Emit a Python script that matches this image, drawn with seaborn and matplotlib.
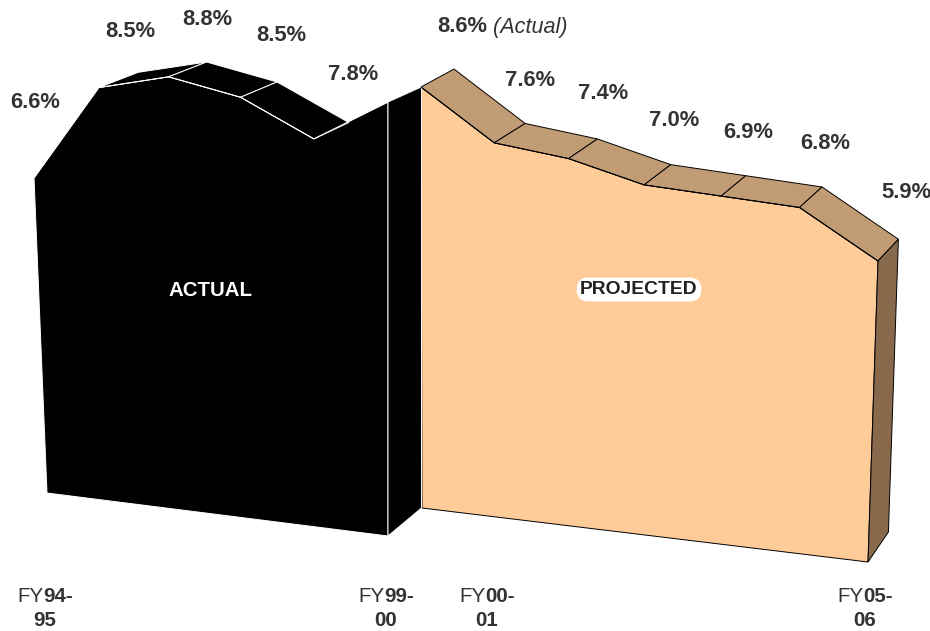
import numpy as np
import pandas as pd
import matplotlib
matplotlib.use("Agg")
import matplotlib.pyplot as plt
import seaborn as sns

# ---- data ----
actual_years = ["FY94-95", "FY95-96", "FY96-97", "FY97-98", "FY98-99", "FY99-00"]
actual_values = [6.6, 8.5, 8.8, 8.5, 7.8, 8.6]
projected_years = ["FY99-00", "FY00-01", "FY01-02", "FY02-03", "FY03-04", "FY04-05", "FY05-06"]
projected_values = [8.6, 7.6, 7.4, 7.0, 6.9, 6.8, 5.9]

# ---- styling / layout ----
TEXT = "#333333"
PEACH, TAN, BROWN = "#FFCC99", "#C09B73", "#88694C"
# perspective anchors of each panel: (position, value) -> canvas
ANCHOR_ACTUAL = [((0, 0), (47, 493)), ((5, 0), (388, 536)), ((0, 6.6), (34, 178)), ((5, 8.6), (388, 102))]
ANCHOR_PROJ = [((0, 0), (422, 508)), ((6, 0), (868, 562)), ((0, 8.6), (421, 87)), ((6, 5.9), (878, 261))]
OFFS_ACTUAL = [(1.5, -75), (31, -56), (39, -57), (41, -62), (39, -64)]
OFFS_PROJ = [None, (36, -62), (35, -65), (30, -64), (27, -64), (26, -64), (28, -68)]

sns.set_theme(style="white")
plt.rcParams["font.family"] = ["Liberation Sans", "DejaVu Sans"]


def homography(pairs):
    A, b = [], []
    for (s, v), (x, y) in pairs:
        A.append([s, v, 1, 0, 0, 0, -s * x, -v * x]); b.append(x)
        A.append([0, 0, 0, s, v, 1, -s * y, -v * y]); b.append(y)
    return np.append(np.linalg.solve(np.array(A, float), np.array(b, float)), 1).reshape(3, 3)


def project(H, s, v, depth=None):
    p = H @ np.array([s, v, 1.0])
    x, y = p[0] / p[2], p[1] / p[2]
    if depth is not None:
        x += depth[0](s)
        y -= depth[1](v)
    return x, y


def faces_viewer(a, b, c):
    # canvas y points down; the top strip shows only when it winds this way
    return (b[0] - a[0]) * (c[1] - a[1]) - (b[1] - a[1]) * (c[0] - a[0]) < 0


fig = plt.figure(figsize=(9.30, 6.31), dpi=100)
ax = fig.add_axes([0, 0, 1, 1])
ax.set_xlim(0, 930)
ax.set_ylim(631, 0)
ax.axis("off")

H_a = homography(ANCHOR_ACTUAL)
H_p = homography(ANCHOR_PROJ)
depth_a = (lambda s: 41 - 1.5 * s, lambda v: 28 - 1.5 * v)
depth_p = (lambda s: 33 - 2.1 * s, lambda v: 30 - 1.4 * v)


def panel(H, depth, values, face, top, side, edge, lw):
    n = len(values)
    front = [project(H, i, v) for i, v in enumerate(values)]
    back = [project(H, i, v, depth) for i, v in enumerate(values)]
    base0, base1 = project(H, 0, 0), project(H, n - 1, 0)
    base_back = project(H, n - 1, 0, depth)
    ax.fill(*zip(*(front + [base1, base0])), facecolor=face, edgecolor=edge, lw=lw, zorder=2, joinstyle="miter")
    for i in range(n - 1):
        shown = faces_viewer(front[i], front[i + 1], back[i + 1])
        ax.fill(*zip(front[i], front[i + 1], back[i + 1], back[i]), facecolor=top, edgecolor=edge, lw=lw,
                zorder=3 + i if shown else 1, joinstyle="miter")
    ax.fill(*zip(front[-1], back[-1], base_back, base1), facecolor=side, edgecolor=edge, lw=lw, zorder=3 + n, joinstyle="miter")
    df = pd.DataFrame(front, columns=["x", "y"])
    sns.lineplot(data=df, x="x", y="y", sort=False, estimator=None, color=edge, lw=lw, ax=ax, zorder=3 + n, legend=False)
    return front, base0, base1


front_a, b0a, b1a = panel(H_a, depth_a, actual_values, "black", "black", "black", "white", 0.7)
front_p, b0p, b1p = panel(H_p, depth_p, projected_values, PEACH, TAN, BROWN, "black", 0.7)
ax.set_xlim(0, 930)
ax.set_ylim(631, 0)
ax.set_xlabel("")
ax.set_ylabel("")

VAL = dict(fontsize=15.8, fontweight="bold", color=TEXT, ha="center", va="center")
for (x, y), v, o in zip(front_a, actual_values, OFFS_ACTUAL):
    ax.text(x + o[0], y + o[1], f"{v:.1f}%", **VAL)
for (x, y), v, o in zip(front_p, projected_values, OFFS_PROJ):
    if o is None:
        t = ax.text(x + 16, y - 60, f"{v:.1f}%", fontsize=15.8, fontweight="bold", color=TEXT, ha="left", va="center")
        ax.annotate(" (Actual)", xy=(1, 0.5), xycoords=t, va="center", ha="left", fontsize=15.6, fontstyle="italic", color=TEXT)
    else:
        ax.text(x + o[0], y + o[1], f"{v:.1f}%", **VAL)

ax.text(210, 290, "ACTUAL", fontsize=14.7, fontweight="bold", color="white", ha="center", va="center", zorder=20)
ax.text(639, 289.5, "PROJECTED", fontsize=13.9, fontweight="bold", color="#222222", ha="center", va="center", zorder=20,
        bbox=dict(boxstyle="round,pad=0.18,rounding_size=0.6", facecolor="white", edgecolor="none"))


def year_label(center, name):
    head, tail = name[:2], name[2:].split("-")
    split = center - 2
    for txt, x, ha, w, y in [(head, split, "right", "normal", 596),
                             (tail[0] + "-", split, "left", "bold", 596),
                             (tail[1], center, "center", "bold", 621)]:
        ax.text(x, y, txt, fontsize=14.8, fontweight=w, color=TEXT, ha=ha, va="center")


year_label(45, actual_years[0])
year_label(386, actual_years[-1])
year_label(487, projected_years[1])
year_label(865, projected_years[-1])

fig.savefig("out.png", dpi=100, facecolor="white")
